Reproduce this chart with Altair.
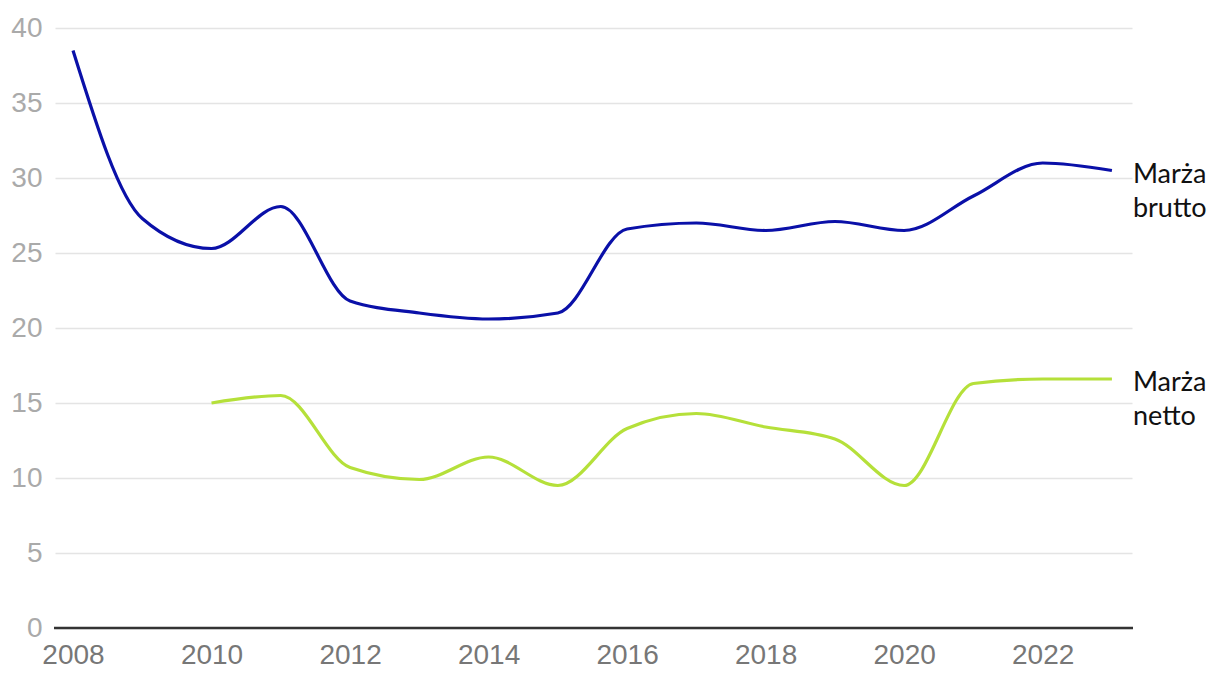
import altair as alt
import pandas as pd

years = list(range(2008, 2024))
brutto = [38.5, 27.3, 25.3, 28.1, 21.8, 21.0, 20.6, 21.0, 26.6, 27.0, 26.5, 27.1, 26.5, 28.8, 31.0, 30.5]
netto_years = list(range(2010, 2024))
netto = [15.0, 15.5, 10.7, 9.9, 11.4, 9.5, 13.3, 14.3, 13.4, 12.6, 9.5, 16.3, 16.6, 16.6]
x_ticks = [2008, 2010, 2012, 2014, 2016, 2018, 2020, 2022]
y_ticks = [0, 5, 10, 15, 20, 25, 30, 35, 40]
series_names = ["Marża brutto", "Marża netto"]
label_texts = [["Marża", "brutto"], ["Marża", "netto"]]
colors = ["#0a10a8", "#b5e03a"]

rows = [{"year": y, "value": v, "series": series_names[0]} for y, v in zip(years, brutto)]
rows += [{"year": y, "value": v, "series": series_names[1]} for y, v in zip(netto_years, netto)]
df = pd.DataFrame(rows)

labels = pd.DataFrame({
    "year": [years[-1], netto_years[-1]],
    "value": [brutto[-1], netto[-1]],
    "series": series_names,
    "label": label_texts,
})

x = alt.X("year:Q", scale=alt.Scale(domain=[2007.74, 2023.29], nice=False, zero=False),
          axis=alt.Axis(values=x_ticks, format="d", grid=False, ticks=False, domain=False,
                        labelFontSize=28, labelColor="#777777", labelFont="Liberation Sans",
                        labelPadding=13, title=None))
y = alt.Y("value:Q", scale=alt.Scale(domain=[0, 40], nice=False),
          axis=alt.Axis(values=y_ticks, grid=True, gridColor="#e4e4e4", gridWidth=1.5,
                        ticks=False, domain=False, labelFontSize=28, labelColor="#aaaaaa",
                        labelFont="Liberation Sans", labelPadding=13, title=None))
color = alt.Color("series:N", scale=alt.Scale(domain=series_names, range=colors), legend=None)

lines = alt.Chart(df).mark_line(interpolate="monotone", strokeWidth=3.2).encode(x=x, y=y, color=color)

zero_line = alt.Chart(pd.DataFrame({"v": [0]})).mark_rule(color="#333333", strokeWidth=2.5).encode(
    y=alt.Y("v:Q"), x=alt.value(-1), x2=alt.value(1078))

text = alt.Chart(labels).mark_text(align="left", baseline="alphabetic", dx=21, dy=12,
                                   fontSize=27, font="Lato", color="#111111",
                                   lineHeight=34).encode(
    x="year:Q", y="value:Q", text="label")

chart = alt.layer(lines, zero_line, text).properties(
    width=1077, height=600,
    autosize=alt.AutoSizeParams(type="none"),
    padding={"left": 47, "top": 20, "right": 80, "bottom": 48},
).configure_view(stroke=None)

chart.save("out.html", embed_options={"renderer": "svg", "actions": False})
